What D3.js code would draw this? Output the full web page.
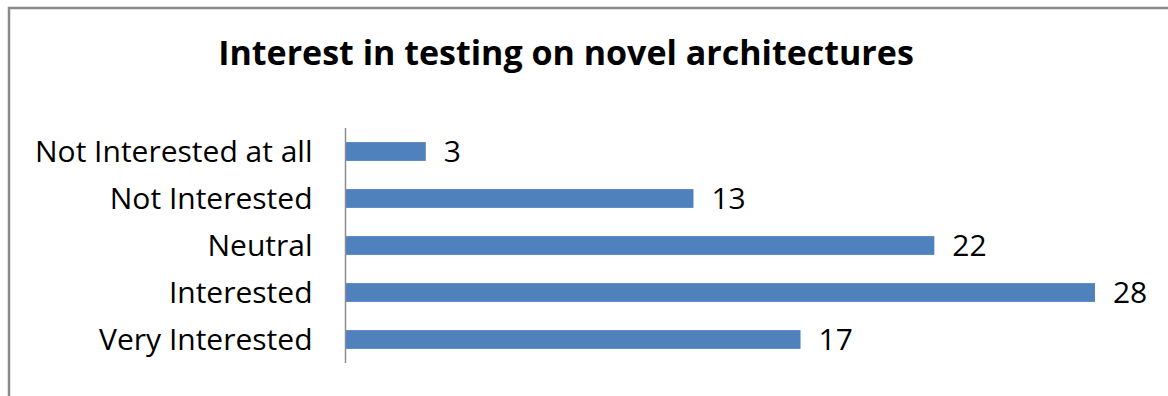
<!DOCTYPE html>
<html>
<head>
<meta charset="utf-8">
<script src="https://cdn.jsdelivr.net/npm/d3@7"></script>
<style>
  html, body { margin: 0; padding: 0; background: #fff; }
  svg { display: block; }
  text { font-family: "Open Sans", "Noto Sans", sans-serif; fill: #000; }
</style>
</head>
<body>
<svg id="chart" width="1168" height="396"></svg>
<script>
// Survey answers, top to bottom
const categories = [
  "Not Interested at all",
  "Not Interested",
  "Neutral",
  "Interested",
  "Very Interested"
];
const counts = [3, 13, 22, 28, 17];
const chartTitle = "Interest in testing on novel architectures";

const width = 1168, height = 396;
const svg = d3.select("#chart");

// outer frame (top and left edges fall inside the view)
svg.append("rect")
  .attr("x", 9).attr("y", 8)
  .attr("width", width + 20).attr("height", height + 20)
  .attr("fill", "none")
  .attr("stroke", "#8a8a8a")
  .attr("stroke-width", 2.5);

const plot = { left: 345.5, right: 1148.5, top: 128, bottom: 363 };

const x = d3.scaleLinear().domain([0, 30]).range([plot.left, plot.right]);
const y = d3.scaleBand()
  .domain(categories)
  .range([plot.top, plot.bottom])
  .paddingInner(0.6)
  .paddingOuter(0.3);

// title
svg.append("text")
  .attr("x", 566)
  .attr("y", 65)
  .attr("text-anchor", "middle")
  .style("font-size", "34px")
  .style("font-weight", "bold")
  .text(chartTitle);

// bars
svg.append("g").selectAll("rect")
  .data(categories)
  .join("rect")
  .attr("x", x(0))
  .attr("y", (d) => y(d))
  .attr("width", (d, i) => x(counts[i]) - x(0))
  .attr("height", y.bandwidth())
  .attr("fill", "#4f81bd");

// category axis
const yAxis = svg.append("g")
  .attr("transform", `translate(${plot.left},0)`)
  .call(d3.axisLeft(y).tickSize(0).tickPadding(33));
yAxis.select(".domain")
  .attr("d", `M0,${plot.top}V${plot.bottom}`)
  .attr("stroke", "#8c8c8c")
  .attr("stroke-width", 1.5);
yAxis.selectAll(".tick text")
  .attr("dy", "0.35em")
  .style("font-family", "'Open Sans', 'Noto Sans', sans-serif")
  .style("font-size", "30px")
  .attr("fill", "#000");

// value labels
svg.append("g").selectAll("text")
  .data(categories)
  .join("text")
  .attr("x", (d, i) => x(counts[i]) + 18)
  .attr("y", (d) => y(d) + y.bandwidth() / 2)
  .attr("dy", "0.35em")
  .style("font-size", "30px")
  .text((d, i) => counts[i]);
</script>
</body>
</html>
